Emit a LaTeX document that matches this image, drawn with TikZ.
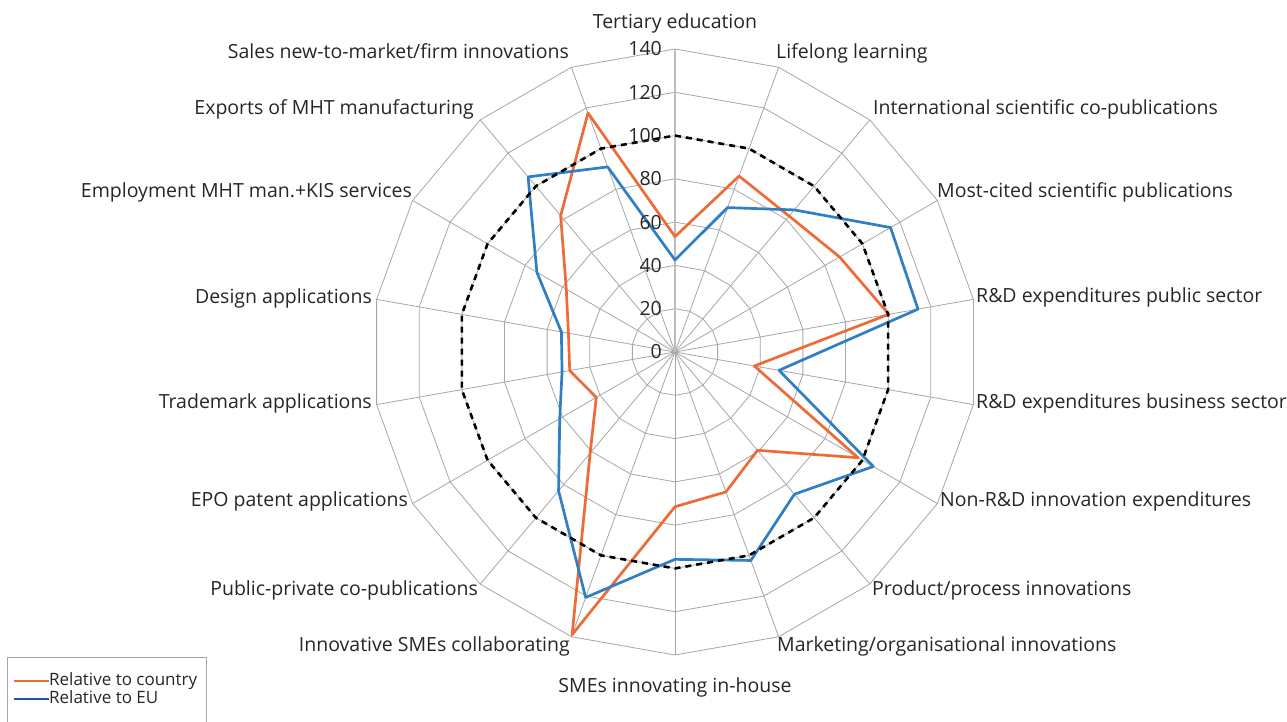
\documentclass[tikz,border=0pt]{standalone}
\usepackage{fontspec}
\setmainfont{Open Sans}
\definecolor{gridgray}{HTML}{A6A6A6}
\definecolor{axisgray}{HTML}{BDBDBD}
\definecolor{countryorange}{HTML}{EE6A37}
\definecolor{eublue}{HTML}{2F7FC4}
\definecolor{keyblue}{HTML}{1F5699}
\tikzset{font=\fontsize{19.5}{23}\selectfont}
\tikzstyle{grid}=[draw=gridgray,line width=0.8pt]
\tikzstyle{valaxis}=[draw=axisgray,line width=1.3pt]
\tikzstyle{eulevel}=[draw=black,line width=2.6pt,dash pattern=on 6pt off 5pt]
\tikzstyle{country}=[draw=countryorange,line width=2.7pt,line join=round]
\tikzstyle{eu}=[draw=eublue,line width=2.7pt,line join=round]
\tikzstyle{tick}=[anchor=east,inner sep=0pt,xshift=-13pt,text=black!85]
\tikzstyle{axlabel}=[inner sep=0pt,text=black!85]
\tikzstyle{keytext}=[inner sep=0pt,text=black!85,font=\fontsize{17}{20}\selectfont]

\begin{document}
\begin{tikzpicture}[x=1pt,y=1pt]
	\useasboundingbox (0,0) rectangle (1287,722);
	\begin{scope}[shift={(675,370)},x=2.1643pt,y=2.1643pt]
		\foreach \r in {20,40,...,140}
			\draw[grid] (90:\r) \foreach \a in {70,50,...,-250} {-- (\a:\r)} -- cycle;
		\foreach \k in {0,...,17}
			\draw[grid] (0,0) -- ({90-20*\k}:140);
		\draw[valaxis] (0,0) -- (90:140);
		\foreach \v [count=\k from 0] in {53.3,86.5,82,87.8,100.3,37.2,97.7,59.3,68.8,71.5,139,61,42,49.4,50,58,82.2,117.5}
			\coordinate (c\k) at ({90-20*\k}:\v);
		\foreach \v [count=\k from 0] in {42.5,71,85.7,115,114,48.8,105.8,85.8,102.5,95.8,120.7,83.7,61.5,53,53.3,73.7,105.6,91}
			\coordinate (e\k) at ({90-20*\k}:\v);
		\draw[country] (c0) \foreach \k in {1,...,17} {-- (c\k)} -- cycle;
		\draw[eu] (e0) \foreach \k in {1,...,17} {-- (e\k)} -- cycle;
		\draw[eulevel] (90:100) \foreach \a in {70,50,...,-250} {-- (\a:100)} -- cycle;
		\foreach \r in {0,20,...,140}
			\node[tick] (t\r) at (0,\r) {\r};
	\end{scope}
	\foreach \k/\x/\y/\txt/\anc in {
		0/675/693.3/Tertiary education/base,
		1/776/663/Lifelong learning/base west,
		2/873/607/International scientific co-publications/base west,
		3/937/524/Most-cited scientific publications/base west,
		4/976/419.3/R\&D expenditures public sector/base west,
		5/976/313.7/R\&D expenditures business sector/base west,
		6/940/215/Non-R\&D innovation expenditures/base west,
		7/872/126/{Product/process innovations}/base west,
		8/777/70/{Marketing/organisational innovations}/base west,
		9/675/29.7/SMEs innovating in-house/base,
		10/570/70/Innovative SMEs collaborating/base east,
		11/478/126/Public-private co-publications/base east,
		12/408/215/EPO patent applications/base east,
		13/372/313.7/Trademark applications/base east,
		14/372/418.7/Design applications/base east,
		15/412/524/Employment MHT man.+KIS services/base east,
		16/474/607/Exports of MHT manufacturing/base east,
		17/569/663/{Sales new-to-market/firm innovations}/base east}
		\node[axlabel,anchor=\anc] (l\k) at (\x,\y) {\txt};
	\draw[gridgray,line width=0.8pt] (7.5,0) -- (7.5,64.5) -- (206,64.5) -- (206,0);
	\node[keytext,anchor=base west] (k1) at (49,36) {Relative to country};
	\node[keytext,anchor=base west] (k2) at (49,18.7) {Relative to EU};
	\coordinate (k1s) at (14,41);
	\coordinate (k2s) at (14,23.3);
	\draw[countryorange,line width=2pt] (k1s) -- (k1s -| k1.west);
	\draw[keyblue,line width=2pt] (k2s) -- (k2s -| k2.west);
\end{tikzpicture}
\end{document}
